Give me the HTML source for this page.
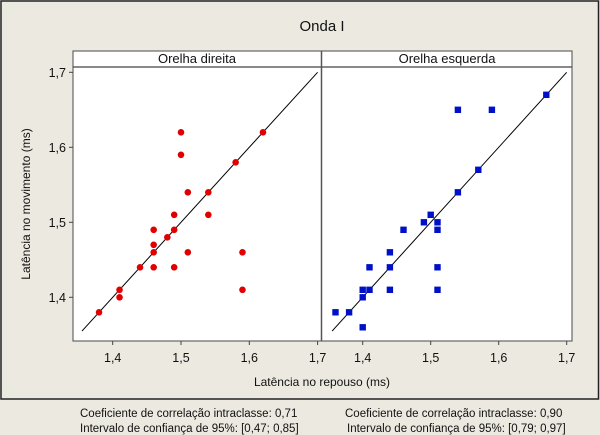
<!DOCTYPE html>
<html><head><meta charset="utf-8"><style>
html,body{margin:0;padding:0;background:#ece9e1;}
svg{display:block;font-family:"Liberation Sans",Arial,sans-serif;}
</style></head><body>
<svg id="chart" width="600" height="435" xmlns="http://www.w3.org/2000/svg">
<rect x="0" y="0" width="600" height="435" fill="#ece9e1"/>
<rect x="1" y="1" width="597.5" height="398" fill="none" stroke="#222" stroke-width="1.5"/>
<text x="322" y="31" font-size="15" text-anchor="middle" fill="#111">Onda I</text>
<rect x="73" y="51" width="499" height="290" fill="#fff" stroke="#666" stroke-width="1.2"/>
<line x1="73" y1="67" x2="572" y2="67" stroke="#444" stroke-width="1.2"/>
<line x1="321.5" y1="51" x2="321.5" y2="341" stroke="#555" stroke-width="1.5"/>
<text x="197" y="63" font-size="13" text-anchor="middle" fill="#111">Orelha direita</text>
<text x="447" y="63" font-size="13" text-anchor="middle" fill="#111">Orelha esquerda</text>
<text transform="translate(30,204) rotate(-90)" font-size="12" text-anchor="middle" fill="#111">Latência no movimento (ms)</text>
<text x="322" y="386" font-size="12" text-anchor="middle" fill="#111">Latência no repouso (ms)</text>
<text x="80" y="417" font-size="11.5" fill="#111">Coeficiente de correlação intraclasse: 0,71</text>
<text x="80" y="432" font-size="11.5" fill="#111">Intervalo de confiança de 95%: [0,47; 0,85]</text>
<text x="345" y="417" font-size="11.5" fill="#111">Coeficiente de correlação intraclasse: 0,90</text>
<text x="347" y="432" font-size="11.5" fill="#111">Intervalo de confiança de 95%: [0,79; 0,97]</text>
<g id="marks"></g>
</svg>
<script>
const ticks = [1.4, 1.5, 1.6, 1.7];
const tickLabels = ["1,4", "1,5", "1,6", "1,7"];
const rightEarX = [1.38,1.41,1.41,1.44,1.46,1.46,1.46,1.46,1.48,1.49,1.49,1.49,1.50,1.50,1.51,1.51,1.54,1.54,1.58,1.59,1.59,1.62];
const rightEarY = [1.38,1.41,1.40,1.44,1.44,1.46,1.47,1.49,1.48,1.49,1.51,1.44,1.62,1.59,1.54,1.46,1.54,1.51,1.58,1.46,1.41,1.62];
const leftEarX = [1.36,1.38,1.40,1.40,1.40,1.41,1.41,1.44,1.44,1.44,1.46,1.49,1.50,1.51,1.51,1.51,1.51,1.54,1.54,1.57,1.59,1.67];
const leftEarY = [1.38,1.38,1.36,1.40,1.41,1.41,1.44,1.41,1.44,1.46,1.49,1.50,1.51,1.50,1.49,1.44,1.41,1.54,1.65,1.57,1.65,1.67];

const NS = "http://www.w3.org/2000/svg";
const svg = document.getElementById("chart");
const g = document.getElementById("marks");
function y(v){ return 297.3 - (v - 1.4) * 750; }
function xL(v){ return 112.7 + (v - 1.4) * 683; }
function xR(v){ return 362.7 + (v - 1.4) * 680; }
function mk(tag, attrs){ const e = document.createElementNS(NS, tag); for (const k in attrs) e.setAttribute(k, attrs[k]); return e; }

ticks.forEach((t, i) => {
  const yl = mk("line", {x1: 69, x2: 73, y1: y(t), y2: y(t), stroke: "#444"});
  
  
  g.appendChild(yl);
  const ytx = mk("text", {x: 66, y: y(t) + 4.5, "font-size": 12.5, "text-anchor": "end", fill: "#111"});
  ytx.textContent = tickLabels[i];
  
  
  g.appendChild(ytx);
  [xL, xR].forEach(fx => {
    const xl = mk("line", {x1: fx(t), x2: fx(t), y1: 341, y2: 345, stroke: "#444"});
    
    
    g.appendChild(xl);
    const xt = mk("text", {x: fx(t), y: 362, "font-size": 12.5, "text-anchor": "middle", fill: "#111"});
    xt.textContent = tickLabels[i];
    
    
    g.appendChild(xt);
  });
});

[xL, xR].forEach(fx => {
  const l = mk("line", {x1: fx(1.355), y1: y(1.355), x2: fx(1.7), y2: y(1.7), stroke: "#000", "stroke-width": 1});
  
  
  g.appendChild(l);
});

rightEarX.forEach((v, i) => {
  const c = mk("circle", {cx: xL(v), cy: y(rightEarY[i]), r: 3.3, fill: "#e00000"});
  
  
  g.appendChild(c);
});
leftEarX.forEach((v, i) => {
  const r = mk("rect", {x: xR(v) - 3.2, y: y(leftEarY[i]) - 3.2, width: 6.4, height: 6.4, fill: "#0010c8"});
  
  
  g.appendChild(r);
});
</script>
</body></html>
